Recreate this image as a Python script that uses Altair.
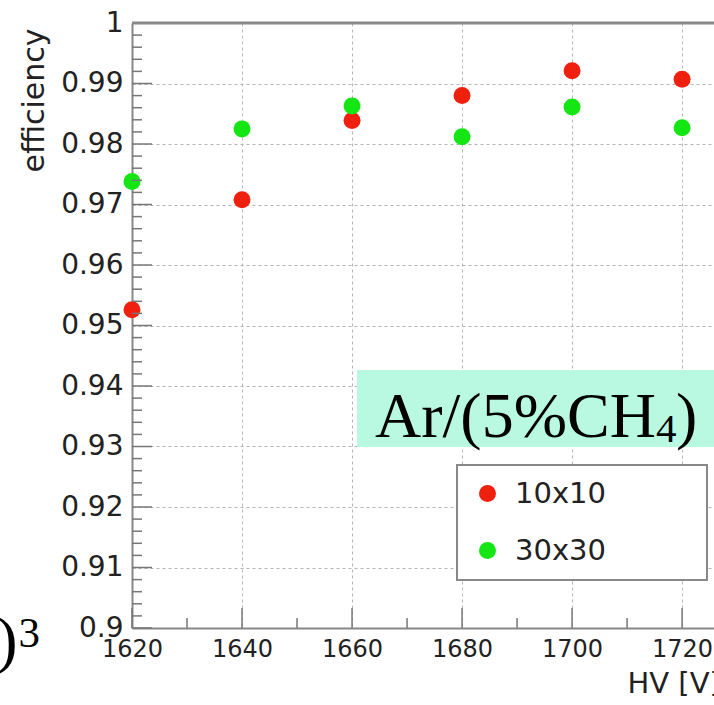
import altair as alt
import pandas as pd
import numpy as np

# ---- data ----
hv = [1620, 1640, 1660, 1680, 1700, 1720]
eff_10x10 = [0.9526, 0.9708, 0.9839, 0.9880, 0.9921, 0.9907]
eff_30x30 = [0.9738, 0.9825, 0.9863, 0.9812, 0.9861, 0.9827]
series_names = ["10x10", "30x30"]
series_colors = ["#f0200f", "#14e614"]

x_ticks = [1620, 1640, 1660, 1680, 1700, 1720]
y_ticks = [0.9, 0.91, 0.92, 0.93, 0.94, 0.95, 0.96, 0.97, 0.98, 0.99, 1.0]

x_title = "HV [V]"
y_title = "efficiency"
annot_main = "Ar/(5%CH"
annot_sub = "4"
annot_close = ")"
corner_main = ")"
corner_sup = "3"

# ---- layout ----
W, H = 582, 605
L, T = 132, 23
FONT = "DejaVu Sans"
SERIF = "Liberation Serif"
TXT = "#222222"
FRAME = "#888888"

df = pd.DataFrame({
    "hv": hv + hv,
    "eff": eff_10x10 + eff_30x30,
    "series": [series_names[0]] * len(hv) + [series_names[1]] * len(hv),
})

xs = alt.Scale(domain=[1620, 1725.8], nice=False, zero=False)
ys = alt.Scale(domain=[0.9, 1.0], nice=False, zero=False)

xaxis = alt.Axis(
    values=x_ticks, format="d", ticks=False, tickSize=0,
    domainColor=FRAME, domainWidth=2,
    grid=True, gridColor="#b4b4b4", gridDash=[3, 3], gridWidth=1,
    labelFont=FONT, labelFontSize=24, labelColor=TXT, labelPadding=9,
    labelFlush=False, labelOverlap=False,
    title=x_title, titleFont=FONT, titleFontSize=29, titleFontWeight="normal",
    titleColor=TXT, titleX=495, titleY=64, titleAlign="left",
    titleBaseline="alphabetic",
)
yaxis = alt.Axis(
    values=y_ticks, format=".2~f", ticks=False, tickSize=0,
    domainColor=FRAME, domainWidth=2,
    grid=True, gridColor="#b4b4b4", gridDash=[3, 3], gridWidth=1,
    labelFont=FONT, labelFontSize=28, labelColor=TXT, labelPadding=9,
    labelFlush=False, labelOverlap=False,
    title=y_title, titleFont=FONT, titleFontSize=30, titleFontWeight="normal",
    titleColor=TXT, titleAngle=270, titleX=-89, titleY=5, titleAlign="right",
    titleBaseline="alphabetic",
)

one = pd.DataFrame({"a": [0]})

points = alt.Chart(df).mark_point(filled=True, size=289, opacity=1, shape="circle").encode(
    x=alt.X("hv:Q", scale=xs, axis=xaxis),
    y=alt.Y("eff:Q", scale=ys, axis=yaxis),
    color=alt.Color(
        "series:N",
        scale=alt.Scale(domain=series_names, range=series_colors),
        legend=alt.Legend(
            orient="none", legendX=341, legendY=456, title=None, padding=0,
            symbolType="circle", symbolSize=289, symbolStrokeWidth=0, symbolOpacity=1,
            labelFont=FONT, labelFontSize=29, labelColor=TXT, labelOffset=13,
            rowPadding=27,
        ),
    ),
)

# annotation box
mint = alt.Chart(one).mark_rect(fill="#b9f9e1").encode(
    x=alt.value(225), x2=alt.value(W), y=alt.value(347), y2=alt.value(424))

# legend box
legbox = alt.Chart(one).mark_rect(fill="white", stroke=FRAME, strokeWidth=2).encode(
    x=alt.value(325), x2=alt.value(575), y=alt.value(442), y2=alt.value(557))

# ticks (inside the frame)
y_major = np.round(np.arange(0.9, 1.00001, 0.01), 3)
y_all = np.round(np.arange(0.9, 1.00001, 0.002), 3)
y_minor = [v for v in y_all if not np.isclose(v, y_major).any()]
x_major = np.array(x_ticks)
x_minor = [v for v in range(1620, 1726, 10) if v not in x_ticks]

TICK = "#777777"
ytick_major = alt.Chart(pd.DataFrame({"eff": y_major})).mark_rule(color=TICK, strokeWidth=1.5).encode(
    y=alt.Y("eff:Q", scale=ys, axis=yaxis), x=alt.value(0), x2=alt.value(20))
ytick_minor = alt.Chart(pd.DataFrame({"eff": y_minor})).mark_rule(color=TICK, strokeWidth=1.5).encode(
    y=alt.Y("eff:Q", scale=ys, axis=yaxis), x=alt.value(0), x2=alt.value(10))
xtick_major = alt.Chart(pd.DataFrame({"hv": x_major})).mark_rule(color=TICK, strokeWidth=1.5).encode(
    x=alt.X("hv:Q", scale=xs, axis=xaxis), y=alt.value(H), y2=alt.value(H - 20))
xtick_minor = alt.Chart(pd.DataFrame({"hv": x_minor})).mark_rule(color=TICK, strokeWidth=1.5).encode(
    x=alt.X("hv:Q", scale=xs, axis=xaxis), y=alt.value(H), y2=alt.value(H - 10))

top_frame = alt.Chart(one).mark_rule(color=FRAME, strokeWidth=3).encode(
    x=alt.value(0), x2=alt.value(W), y=alt.value(0))

t_main = alt.Chart(one).mark_text(text=annot_main, font=SERIF, fontSize=64, align="left",
                                  baseline="alphabetic", color="black").encode(
    x=alt.value(243), y=alt.value(414))
t_sub = alt.Chart(one).mark_text(text=annot_sub, font=SERIF, fontSize=41, align="left",
                                 baseline="alphabetic", color="black").encode(
    x=alt.value(524), y=alt.value(419))
t_close = alt.Chart(one).mark_text(text=annot_close, font=SERIF, fontSize=64, align="left",
                                   baseline="alphabetic", color="black").encode(
    x=alt.value(544), y=alt.value(414))
c_main = alt.Chart(one).mark_text(text=corner_main, font=SERIF, fontSize=64, align="right",
                                  baseline="alphabetic", color="black").encode(
    x=alt.value(17.5 - L), y=alt.value(661 - T))
c_sup = alt.Chart(one).mark_text(text=corner_sup, font=SERIF, fontSize=43, align="left",
                                 baseline="alphabetic", color="black").encode(
    x=alt.value(18.5 - L), y=alt.value(647 - T))

chart = alt.layer(
    points, mint, legbox, ytick_major, ytick_minor, xtick_major, xtick_minor, top_frame,
    t_main, t_sub, t_close, c_main, c_sup,
).properties(
    width=W, height=H,
    padding={"left": L, "top": T, "right": 0, "bottom": 705 - T - H},
    autosize=alt.AutoSizeParams(type="none"),
    background="white",
).configure_view(stroke=None)

chart.save("out.html", embed_options={"renderer": "svg", "actions": False})
